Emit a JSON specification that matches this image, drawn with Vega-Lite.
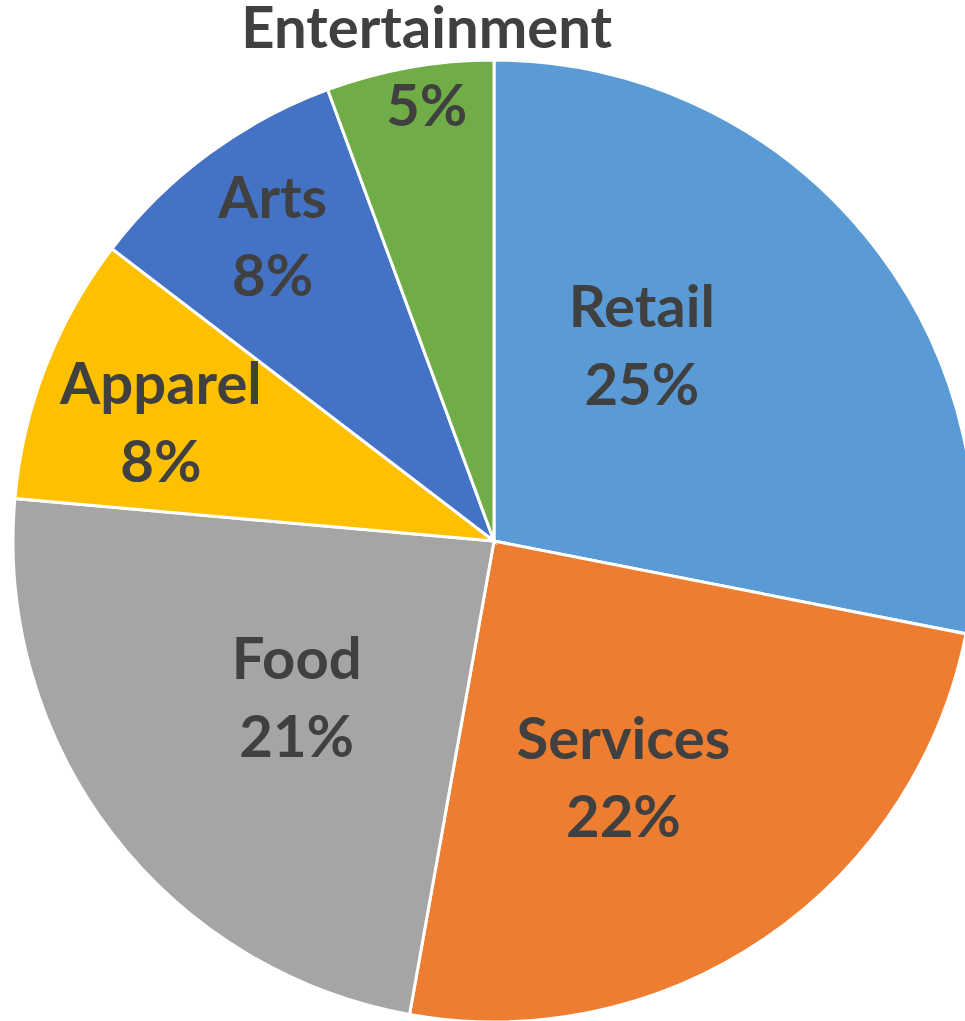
{
  "$schema": "https://vega.github.io/schema/vega-lite/v6.json",
  "width": 988,
  "height": 1082,
  "autosize": {"type": "none"},
  "padding": 0,
  "background": "white",
  "config": {
    "view": {"stroke": null},
    "text": {
      "font": "Lato",
      "fontWeight": "bold",
      "fontSize": 58,
      "lineBreak": "\n",
      "lineHeight": 78,
      "align": "center",
      "baseline": "middle",
      "fill": "#404040"
    }
  },
  "data": {
    "values": [
      {"category": "Retail", "value": 25, "label": "Retail\n25%"},
      {"category": "Services", "value": 22, "label": "Services\n22%"},
      {"category": "Food", "value": 21, "label": "Food\n21%"},
      {"category": "Apparel", "value": 8, "label": "Apparel\n8%"},
      {"category": "Arts", "value": 8, "label": "Arts\n8%"},
      {"category": "Entertainment", "value": 5, "label": "Entertainment\n5%"}
    ]
  },
  "encoding": {
    "theta": {"field": "value", "type": "quantitative", "stack": true},
    "order": {"field": "value", "type": "quantitative", "sort": "descending"},
    "color": {
      "field": "category",
      "type": "nominal",
      "scale": {
        "domain": ["Retail", "Services", "Food", "Apparel", "Arts", "Entertainment"],
        "range": ["#5B9BD5", "#ED7D31", "#A5A5A5", "#FFC000", "#4472C4", "#70AD47"]
      },
      "legend": null
    }
  },
  "layer": [
    {
      "mark": {"type": "arc", "outerRadius": 481, "stroke": "white", "strokeWidth": 3}
    },
    {
      "mark": {"type": "text", "radius": 260, "dx": -53, "dy": -66},
      "encoding": {
        "text": {"condition": {"test": "datum.category === 'Retail'", "field": "label"}, "value": ""},
        "color": {"value": "#404040"}
      }
    },
    {
      "mark": {"type": "text", "radius": 238, "dx": -5, "dy": 5},
      "encoding": {
        "text": {"condition": {"test": "datum.category === 'Services'", "field": "label"}, "value": ""},
        "color": {"value": "#404040"}
      }
    },
    {
      "mark": {"type": "text", "radius": 232, "dx": -13, "dy": -20},
      "encoding": {
        "text": {"condition": {"test": "datum.category === 'Food'", "field": "label"}, "value": ""},
        "color": {"value": "#404040"}
      }
    },
    {
      "mark": {"type": "text", "radius": 367, "dx": 9, "dy": -21},
      "encoding": {
        "text": {"condition": {"test": "datum.category === 'Apparel'", "field": "label"}, "value": ""},
        "color": {"value": "#404040"}
      }
    },
    {
      "mark": {"type": "text", "radius": 405, "dx": 19, "dy": -14},
      "encoding": {
        "text": {"condition": {"test": "datum.category === 'Arts'", "field": "label"}, "value": ""},
        "color": {"value": "#404040"}
      }
    },
    {
      "mark": {"type": "text", "radius": 514, "dx": 23, "dy": -4},
      "encoding": {
        "text": {"condition": {"test": "datum.category === 'Entertainment'", "field": "label"}, "value": ""},
        "color": {"value": "#404040"}
      }
    }
  ]
}
